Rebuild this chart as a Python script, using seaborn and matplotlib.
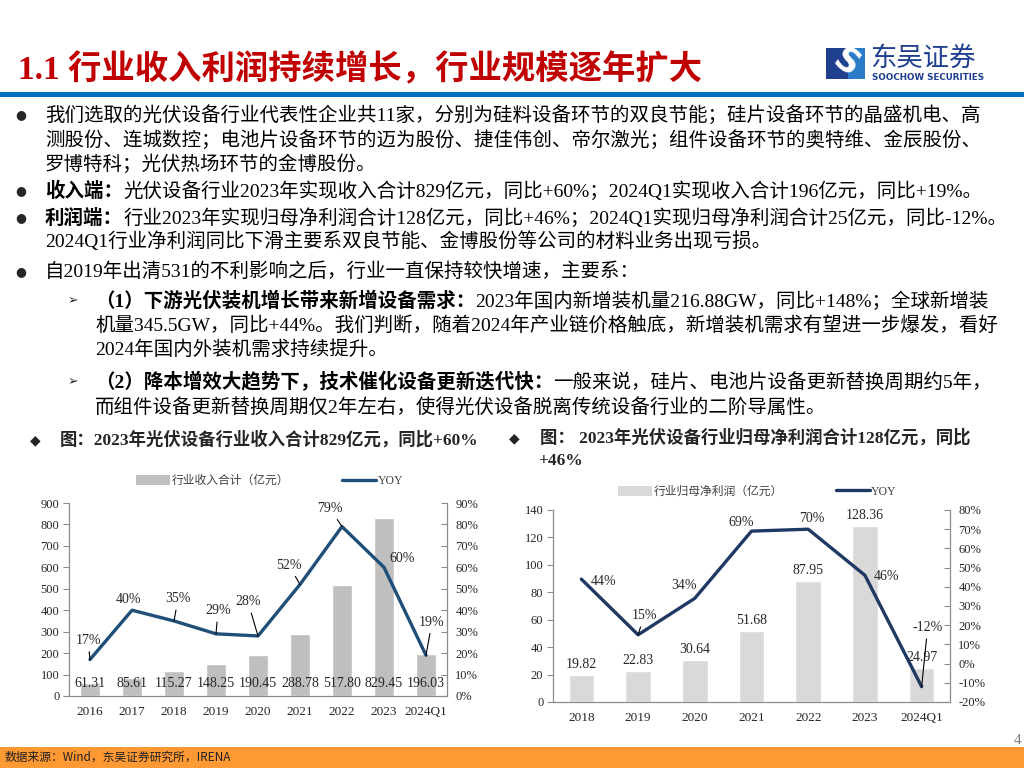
import matplotlib
matplotlib.use("Agg")
import numpy as np
import pandas as pd
import matplotlib.pyplot as plt
import seaborn as sns
from matplotlib.patches import Patch, Rectangle
from matplotlib.lines import Line2D
from matplotlib.ticker import FuncFormatter

# ------------------------------------------
# data
# ------------------------------------------
rev_years = ["2016", "2017", "2018", "2019", "2020", "2021", "2022", "2023", "2024Q1"]
rev_values = [61.31, 85.61, 115.27, 148.25, 190.45, 288.78, 517.80, 829.45, 196.03]
rev_yoy = [17, 40, 35, 29, 28, 52, 79, 60, 19]

profit_years = ["2018", "2019", "2020", "2021", "2022", "2023", "2024Q1"]
profit_values = [19.82, 22.83, 30.64, 51.68, 87.95, 128.36, 24.97]
profit_yoy = [44, 15, 34, 69, 70, 46, -12]

# label offsets (pixels) and whether a leader line is drawn
rev_lbl_off = [(-2, 19, True), (-4, 11, False), (4, 22, True), (2, 23, True), (-10, 34, True),
               (-11, 19, True), (-12, 18, True), (18, 9, False), (6, 33, True)]
profit_lbl_off = [(22, -2, False), (6, 19, True), (-11, 13, False), (-10, 9, False),
                  (4, 11, False), (22, -1, False), (6, 59, True)]

sns.set_style("white")
plt.rcParams["font.family"] = ["Liberation Serif", "Noto Sans CJK SC", "DejaVu Sans"]

W, H = 1024, 768
fig = plt.figure(figsize=(10.24, 7.68), dpi=100)
renderer = fig.canvas.get_renderer()


def fx(px):
    return px / W


def fy(py):
    return 1 - py / H


def text_width(s, size, bold):
    # width of s including trailing advance (measured against a filler glyph)
    kw = dict(fontsize=size, fontweight="bold" if bold else "normal")
    t1 = fig.text(0, 0, s + "一", **kw)
    t2 = fig.text(0, 0, "一", **kw)
    w = t1.get_window_extent(renderer).width - t2.get_window_extent(renderer).width
    t1.remove()
    t2.remove()
    return w


def runs(x, y, parts, size=14, color="black"):
    for s, bold in parts:
        fig.text(fx(x), fy(y), s, fontsize=size, fontweight="bold" if bold else "normal",
                 va="center", ha="left", color=color)
        x += text_width(s, size, bold)


# ------------------------------------------
# header
# ------------------------------------------
fig.text(fx(18), fy(70), "1.1 行业收入利润持续增长，行业规模逐年扩大", fontsize=24,
         fontweight="bold", color="#C00000", va="center")
fig.add_artist(Rectangle((0, fy(97)), 1, 5 / H, transform=fig.transFigure,
                         color="#0070C0", lw=0))

# logo
fig.add_artist(Rectangle((fx(826), fy(79)), 39 / W, 31 / H, transform=fig.transFigure,
                         color="#1F3F8F", lw=0))
fig.add_artist(Rectangle((fx(848), fy(79)), 17 / W, 31 / H, transform=fig.transFigure,
                         color="#2A7BC8", lw=0))
fig.text(fx(845.5), fy(63), "S", fontsize=24, fontweight="bold", color="white",
         ha="center", va="center", rotation=-35, family="DejaVu Sans")
fig.text(fx(870), fy(58), "东吴证券", fontsize=19, color="#1F3F8F", va="center",
         family="Noto Sans CJK SC")
fig.text(fx(872), fy(77), "SOOCHOW SECURITIES", fontsize=6.3, color="#1F3F8F",
         va="center", family="DejaVu Sans", fontweight="bold")

# ------------------------------------------
# bullet text
# ------------------------------------------
bx, tx, sx, ax_ = 15, 45, 95, 68
bullet_lines = [
    (115, tx, True, None, [("我们选取的光伏设备行业代表性企业共11家，分别为硅料设备环节的双良节能；硅片设备环节的晶盛机电、高", False)]),
    (140, tx, False, None, [("测股份、连城数控；电池片设备环节的迈为股份、捷佳伟创、帝尔激光；组件设备环节的奥特维、金辰股份、", False)]),
    (164, tx, False, None, [("罗博特科；光伏热场环节的金博股份。", False)]),
    (191, tx, True, None, [("收入端：", True), ("光伏设备行业2023年实现收入合计829亿元，同比+60%；2024Q1实现收入合计196亿元，同比+19%。", False)]),
    (218, tx, True, None, [("利润端：", True), ("行业2023年实现归母净利润合计128亿元，同比+46%；2024Q1实现归母净利润合计25亿元，同比-12%。", False)]),
    (241, tx, False, None, [("2024Q1行业净利润同比下滑主要系双良节能、金博股份等公司的材料业务出现亏损。", False)]),
    (272, tx, True, None, [("自2019年出清531的不利影响之后，行业一直保持较快增速，主要系：", False)]),
    (301, sx, False, True, [("（1）下游光伏装机增长带来新增设备需求：", True), ("2023年国内新增装机量216.88GW，同比+148%；全球新增装", False)]),
    (325, sx, False, None, [("机量345.5GW，同比+44%。我们判断，随着2024年产业链价格触底，新增装机需求有望进一步爆发，看好", False)]),
    (350, sx, False, None, [("2024年国内外装机需求持续提升。", False)]),
    (382, sx, False, True, [("（2）降本增效大趋势下，技术催化设备更新迭代快：", True), ("一般来说，硅片、电池片设备更新替换周期约5年，", False)]),
    (407, sx, False, None, [("而组件设备更新替换周期仅2年左右，使得光伏设备脱离传统设备行业的二阶导属性。", False)]),
]
for y, x0, dot, arrow, parts in bullet_lines:
    if dot:
        fig.text(fx(bx), fy(y), "●", fontsize=9, va="center", family="DejaVu Sans")
    if arrow:
        fig.text(fx(ax_), fy(y), "➢", fontsize=9, va="center", family="DejaVu Sans")
    runs(x0, y, parts, size=14)

# ------------------------------------------
# chart titles
# ------------------------------------------
fig.text(fx(30), fy(440), "◆", fontsize=10, va="center", family="DejaVu Sans")
fig.text(fx(60), fy(440), "图：2023年光伏设备行业收入合计829亿元，同比+60%", fontsize=12.5,
         fontweight="bold", va="center")
fig.text(fx(509), fy(438), "◆", fontsize=10, va="center", family="DejaVu Sans")
fig.text(fx(540), fy(438), "图： 2023年光伏设备行业归母净利润合计128亿元，同比", fontsize=12.5,
         fontweight="bold", va="center")
fig.text(fx(538), fy(461), "+46%", fontsize=12.5, fontweight="bold", va="center")


# ------------------------------------------
# charts
# ------------------------------------------
def draw_chart(rect, cats, vals, yoy, offs, bar_color, line_color, bar_width,
               ylim, yticks, y2lim, y2ticks, legend_label, legend_pos, labels_inside):
    ax = fig.add_axes(rect)
    df = pd.DataFrame({"cat": cats, "val": vals})
    sns.barplot(data=df, x="cat", y="val", color=bar_color, saturation=1,
                width=bar_width, ax=ax)
    ax.set_xlim(-0.5, len(cats) - 0.5)
    ax.set_ylim(*ylim)
    ax.set_yticks(yticks)
    ax.set_xlabel("")
    ax.set_ylabel("")
    for s in ["top", "right"]:
        ax.spines[s].set_visible(False)
    for s in ["left", "bottom"]:
        ax.spines[s].set_color("#8C8C8C")
        ax.spines[s].set_linewidth(0.9)
    ax.tick_params(axis="y", direction="out", length=4, color="#8C8C8C", labelsize=9, pad=3)
    ax.tick_params(axis="x", length=0, labelsize=9.5, pad=7)

    if labels_inside:
        for i, v in enumerate(vals):
            ax.text(i, ylim[1] * 0.067, f"{v:.2f}", ha="center", va="center", fontsize=10)
    else:
        ax.bar_label(ax.containers[0], labels=[f"{v:.2f}" for v in vals], padding=3, fontsize=10)

    ax2 = ax.twinx()
    sns.lineplot(x=np.arange(len(cats)), y=yoy, color=line_color, lw=2.4, ax=ax2)
    ax2.set_ylim(*y2lim)
    ax2.set_yticks(y2ticks)
    ax2.yaxis.set_major_formatter(FuncFormatter(lambda v, p: f"{v:.0f}%"))
    for s in ["top", "left", "bottom"]:
        ax2.spines[s].set_visible(False)
    ax2.spines["right"].set_color("#8C8C8C")
    ax2.spines["right"].set_linewidth(0.9)
    ax2.tick_params(axis="y", direction="in", length=4, color="#8C8C8C", labelsize=9, pad=6)

    for i, (v, (dx, dy, lead)) in enumerate(zip(yoy, offs)):
        ap = dict(arrowstyle="-", color="black", lw=0.8, shrinkA=1, shrinkB=0) if lead else None
        ax2.annotate(f"{v}%", xy=(i, v), xytext=(dx, dy), textcoords="offset pixels",
                     ha="center", va="center", fontsize=10, arrowprops=ap)

    handles = [Patch(color=bar_color, lw=0), Line2D([0], [0], color=line_color, lw=2.4)]
    ax.legend(handles, [legend_label, "YOY"], loc="center", bbox_to_anchor=legend_pos,
              ncol=2, frameon=False, fontsize=8.5, handlelength=2.9, handleheight=0.9,
              handletextpad=0.1, columnspacing=4.5, labelcolor="#404040")
    return ax, ax2


draw_chart([fx(69), fy(696), 378 / W, 193 / H], rev_years, rev_values, rev_yoy, rev_lbl_off,
           "#BFBFBF", "#1F4E79", 0.47, (0, 900), np.arange(0, 901, 100),
           (0, 90), np.arange(0, 91, 10), "行业收入合计（亿元）", (0.53, 1.114), True)

draw_chart([fx(553), fy(702), 397 / W, 192 / H], profit_years, profit_values, profit_yoy,
           profit_lbl_off, "#D9D9D9", "#1F3864", 0.45, (0, 140), np.arange(0, 141, 20),
           (-20, 80), np.arange(-20, 81, 10), "行业归母净利润（亿元）", (0.515, 1.094), False)

# ------------------------------------------
# footer
# ------------------------------------------
fig.add_artist(Rectangle((0, 0), 1, 21 / H, transform=fig.transFigure, color="#FF9933", lw=0))
fig.text(fx(5), fy(757), "数据来源：Wind，东吴证券研究所，IRENA", fontsize=8.5, va="center",
         family=["Noto Sans CJK SC", "DejaVu Sans"], color="#202020")
fig.text(fx(1018), fy(740), "4", fontsize=11, color="#808080", ha="center", va="center")

fig.savefig("out.png", dpi=100)
